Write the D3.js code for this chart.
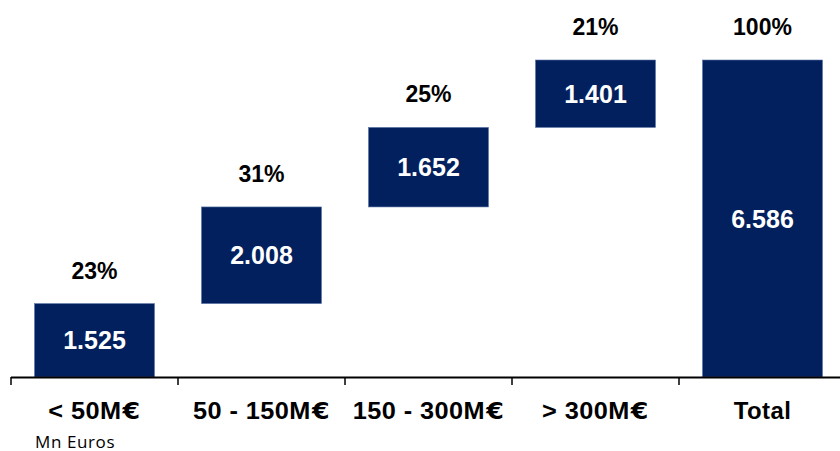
<!DOCTYPE html>
<html>
<head>
<meta charset="utf-8">
<script src="https://cdn.jsdelivr.net/npm/d3@7"></script>
<style>
  body { margin: 0; background: #fff; }
  svg { display: block; font-family: "Liberation Sans", Arial, sans-serif; }
</style>
</head>
<body>
<svg width="840" height="451"></svg>
<script>
var categories = ["< 50M€", "50 - 150M€", "150 - 300M€", "> 300M€", "Total"];
var values = [1.525, 2.008, 1.652, 1.401, 6.586];
var percents = ["23%", "31%", "25%", "21%", "100%"];
var isTotal = [false, false, false, false, true];

var svg = d3.select("svg"),
    margin = {top: 60, right: 0, bottom: 74, left: 11},
    width = 835,
    height = +svg.attr("height") - margin.top - margin.bottom,
    g = svg.append("g").attr("transform", "translate(" + margin.left + "," + margin.top + ")");

// waterfall steps
var data = [], run = 0;
categories.forEach(function(c, i) {
    var start = isTotal[i] ? 0 : run;
    var end = isTotal[i] ? values[i] : run + values[i];
    if (!isTotal[i]) run = end;
    data.push({cat: c, value: values[i], pct: percents[i], y0: start, y1: end});
});

var x = d3.scaleBand()
    .domain(categories)
    .range([0, width])
    .paddingInner(0.2814)
    .paddingOuter(0.1407);

var y = d3.scaleLinear()
    .domain([0, 6.586])
    .range([height, 0]);

var fmt = function(v) { return d3.format(".3f")(v); };

g.selectAll(".bar")
    .data(data)
  .enter().append("rect")
    .attr("class", "bar")
    .attr("x", function(d) { return x(d.cat); })
    .attr("width", x.bandwidth())
    .attr("y", function(d) { return y(d.y1); })
    .attr("height", function(d) { return y(d.y0) - y(d.y1); })
    .attr("fill", "#03205e")
    .attr("stroke", "#5b74a6")
    .attr("stroke-width", 0.6);

g.selectAll(".val")
    .data(data)
  .enter().append("text")
    .attr("class", "val")
    .attr("x", function(d) { return x(d.cat) + x.bandwidth() / 2; })
    .attr("y", function(d) { return (y(d.y0) + y(d.y1)) / 2 + 9; })
    .attr("text-anchor", "middle")
    .attr("fill", "#fff")
    .style("font-weight", "bold")
    .style("font-size", "25px")
    .text(function(d) { return fmt(d.value); });

g.selectAll(".pct")
    .data(data)
  .enter().append("text")
    .attr("class", "pct")
    .attr("x", function(d) { return x(d.cat) + x.bandwidth() / 2; })
    .attr("y", function(d) { return y(d.y1) - 25; })
    .attr("text-anchor", "middle")
    .attr("fill", "#000")
    .style("font-weight", "bold")
    .style("font-size", "23px")
    .text(function(d) { return d.pct; });

// axis: baseline plus ticks at category boundaries
var step = x.step();
g.append("line")
    .attr("x1", 0).attr("x2", width)
    .attr("y1", y(0) + 0.5).attr("y2", y(0) + 0.5)
    .attr("stroke", "#000").attr("stroke-width", 2);

g.selectAll(".tick")
    .data(d3.range(categories.length + 1))
  .enter().append("line")
    .attr("x1", function(i) { return i * step; })
    .attr("x2", function(i) { return i * step; })
    .attr("y1", y(0)).attr("y2", y(0) + 8)
    .attr("stroke", "#000").attr("stroke-width", 1.5);

// category labels, a little wider than the plain font
var cat = g.selectAll(".cat")
    .data(data)
  .enter().append("text")
    .attr("class", "cat")
    .attr("transform", function(d) {
        var sx = d.cat.indexOf("€") >= 0 ? 1.1 : 1.04;
        return "translate(" + (x(d.cat) + x.bandwidth() / 2) + "," + (y(0) + 42) + ") scale(" + sx + ",1)";
    })
    .attr("text-anchor", "middle")
    .attr("fill", "#000")
    .style("font-weight", "bold")
    .style("font-size", "23px")
    .style("letter-spacing", "0.4px");

cat.each(function(d) {
    var t = d3.select(this), k = d.cat.indexOf("€");
    if (k < 0) { t.text(d.cat); return; }
    t.append("tspan").text(d.cat.slice(0, k));
    t.append("tspan")
        .attr("dx", 1)
        .style("font-family", "'DejaVu Sans', sans-serif")
        .text("€");
});

svg.append("text")
    .attr("x", 35)
    .attr("y", 448)
    .style("font-family", "'Open Sans', sans-serif")
    .style("font-size", "17px")
    .style("letter-spacing", "0.6px")
    .attr("fill", "#000")
    .text("Mn Euros");
</script>
</body>
</html>
